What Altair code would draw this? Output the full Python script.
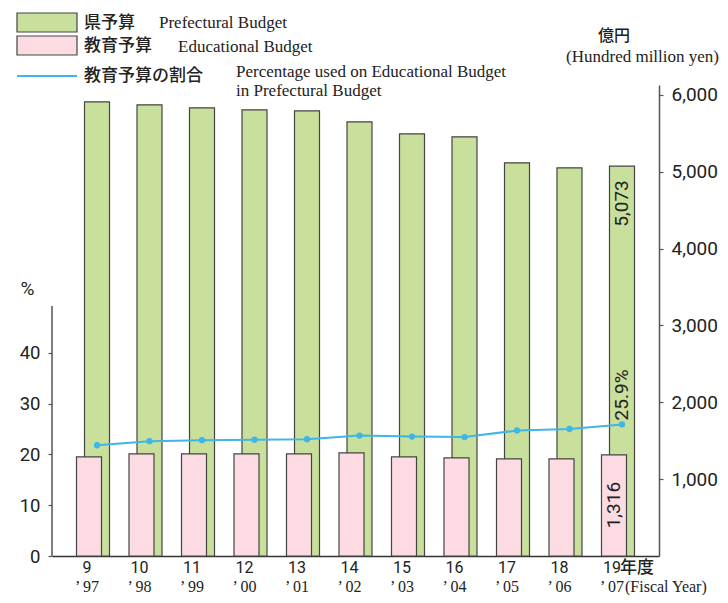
import altair as alt
import pandas as pd

# ---- data ----
years = ['9', '10', '11', '12', '13', '14', '15', '16', '17', '18', '19']
years_west = ['’ 97', '’ 98', '’ 99', '’ 00', '’ 01', '’ 02', '’ 03', '’ 04', '’ 05', '’ 06', '’ 07']
pref_budget = [5911, 5872, 5833, 5807, 5794, 5651, 5495, 5456, 5117, 5052, 5073]
edu_budget = [1289, 1328, 1328, 1328, 1328, 1341, 1289, 1276, 1263, 1263, 1316]
edu_share = [21.8, 22.6, 22.8, 22.9, 23.0, 23.7, 23.5, 23.4, 24.7, 25.0, 25.9]
yen_ticks = [1000, 2000, 3000, 4000, 5000, 6000]
pct_ticks = [0, 10, 20, 30, 40]

df = pd.DataFrame({'year': years, 'west': years_west, 'pref': pref_budget,
                   'edu': edu_budget, 'pct': edu_share})
df['pref_lbl'] = df['pref'].map('{:,}'.format)
df['edu_lbl'] = df['edu'].map('{:,}'.format)
df['pct_lbl'] = df['pct'].map('{:.1f}%'.format)
last = df.iloc[[-1]].copy()
one = pd.DataFrame({'axis_lo': [0], 'axis_hi': [49.2]})

W, H = 607, 471
GREEN = '#c8e09b'
PINK = '#fcdbe3'
BLUE = '#3fb5e8'
EDGE = '#444444'
INK = '#222222'
SANS = 'Roboto'
CJK = 'Noto Sans CJK JP'
SERIF = 'Liberation Serif'

xenc = alt.X('year:N', sort=years,
             scale=alt.Scale(paddingInner=0, paddingOuter=0.281),
             axis=alt.Axis(labels=False, ticks=False, title=None,
                           domainColor='#333333', domainWidth=1.5))

yen_scale = alt.Scale(domain=[0, 6130], nice=False, zero=True)
pct_scale = alt.Scale(domain=[0, 92.7], nice=False, zero=True)

right_axis = alt.Axis(orient='right', values=yen_ticks, format=',.0f', title=None,
                      grid=False, labelFont=SANS, labelFontSize=19, labelColor=INK,
                      tickSize=4, tickColor='#555555', tickWidth=1.2,
                      domainColor='#555555', domainWidth=1.5, labelPadding=8)
left_axis = alt.Axis(orient='left', values=pct_ticks, format='.0f', title=None, grid=False,
                     domain=False, labelFont=SANS, labelFontSize=18.5,
                     labelColor=INK, tickSize=4, tickColor='#555555',
                     tickWidth=1.2, labelPadding=8)

y_pref = alt.Y('pref:Q', scale=yen_scale, axis=right_axis)
y_edu = alt.Y('edu:Q', scale=yen_scale, axis=right_axis)
y_pct = alt.Y('pct:Q', scale=pct_scale, axis=left_axis)

base = alt.Chart(df)

green = base.mark_bar(width=25, xOffset=4, fill=GREEN, stroke=EDGE,
                      strokeWidth=1.2).encode(x=xenc, y=y_pref)
pink = base.mark_bar(width=25, xOffset=-4, fill=PINK, stroke=EDGE,
                     strokeWidth=1.2).encode(x=xenc, y=y_edu)
lbl_pref = alt.Chart(last).mark_text(angle=270, align='right', baseline='middle',
                                     dx=-14, xOffset=4, font=SANS, fontSize=19,
                                     color=INK).encode(x=xenc, y=y_pref, text='pref_lbl:N')
lbl_edu = alt.Chart(last).mark_text(angle=270, align='right', baseline='middle',
                                    dx=-27, xOffset=-4, font=SANS, fontSize=19,
                                    color=INK).encode(x=xenc, y=y_edu, text='edu_lbl:N')

yen_group = alt.layer(green, pink, lbl_pref, lbl_edu)

left_rule = alt.Chart(one).mark_rule(color='#555555', strokeWidth=1.5).encode(
    x=alt.value(0),
    y=alt.Y('axis_lo:Q', scale=pct_scale, axis=left_axis),
    y2='axis_hi:Q')
line = base.mark_line(color=BLUE, strokeWidth=2, xOffset=4).encode(x=xenc, y=y_pct)
pts = base.mark_circle(color=BLUE, size=40, opacity=1, xOffset=4).encode(x=xenc, y=y_pct)
lbl_pct = alt.Chart(last).mark_text(angle=270, align='left', baseline='middle',
                                    dx=4, xOffset=4, font=SANS, fontSize=19,
                                    color=INK).encode(x=xenc, y=y_pct, text='pct_lbl:N')

# x labels
row1 = base.mark_text(align='center', baseline='alphabetic', xOffset=-6,
                      font=SANS, fontSize=16, color=INK).encode(
    x=xenc, y=alt.value(488), text='year:N')
nendo = alt.Chart(last).mark_text(align='left', baseline='alphabetic', xOffset=2,
                                  font=CJK, fontSize=17, fontWeight=500, color=INK).encode(
    x=xenc, y=alt.value(488), text=alt.value('年度'))
row2 = base.mark_text(align='center', baseline='alphabetic', xOffset=-6,
                      font=SERIF, fontSize=16, color=INK).encode(
    x=xenc, y=alt.value(507), text='west:N')
fiscal = alt.Chart(last).mark_text(align='left', baseline='alphabetic', xOffset=7,
                                   font=SERIF, fontSize=16, color=INK).encode(
    x=xenc, y=alt.value(507), text=alt.value('(Fiscal Year)'))

# legend and titles
dummy = alt.Chart(pd.DataFrame({'a': [0]}))


def txt(s, x, y, font, size, align='left', baseline='middle', weight=400):
    return dummy.mark_text(align=align, baseline=baseline, font=font,
                           fontSize=size, fontWeight=weight, color=INK).encode(
        x=alt.value(x), y=alt.value(y), text=alt.value(s))


leg_green = dummy.mark_rect(fill=GREEN, stroke=EDGE, strokeWidth=1.2).encode(
    x=alt.value(-35), x2=alt.value(25), y=alt.value(-72), y2=alt.value(-53))
leg_pink = dummy.mark_rect(fill=PINK, stroke=EDGE, strokeWidth=1.2).encode(
    x=alt.value(-35), x2=alt.value(25), y=alt.value(-49), y2=alt.value(-30))
leg_line = dummy.mark_rule(color=BLUE, strokeWidth=2).encode(
    x=alt.value(-35), x2=alt.value(25), y=alt.value(-9))

texts = [
    txt('県予算', 32, -62, CJK, 17, weight=500),
    txt('Prefectural Budget', 107, -57, SERIF, 17, baseline='alphabetic'),
    txt('教育予算', 32, -39, CJK, 17, weight=500),
    txt('Educational Budget', 126, -33, SERIF, 17, baseline='alphabetic'),
    txt('教育予算の割合', 32, -9, CJK, 17, weight=500),
    txt('Percentage used on Educational Budget', 184, -8, SERIF, 17, baseline='alphabetic'),
    txt('in Prefectural Budget', 184, 11, SERIF, 17, baseline='alphabetic'),
    txt('億円', 562, -49, CJK, 16, align='center', weight=500),
    txt('(Hundred million yen)', 667, -28, SERIF, 17, align='right'),
    txt('%', -24.5, 204, SANS, 19, align='center'),
]

pct_group = alt.layer(left_rule, line, pts, lbl_pct, row1, nendo, row2, fiscal,
                      leg_green, leg_pink, leg_line, *texts)

chart = alt.layer(yen_group, pct_group).resolve_scale(y='independent').properties(
    width=W, height=H,
    padding={'left': 44, 'top': 77, 'right': 61, 'bottom': 39},
    autosize=alt.AutoSizeParams(type='none'),
    background='white',
).configure_view(stroke=None)

chart.save('out.html', embed_options={'renderer': 'svg', 'actions': False})
